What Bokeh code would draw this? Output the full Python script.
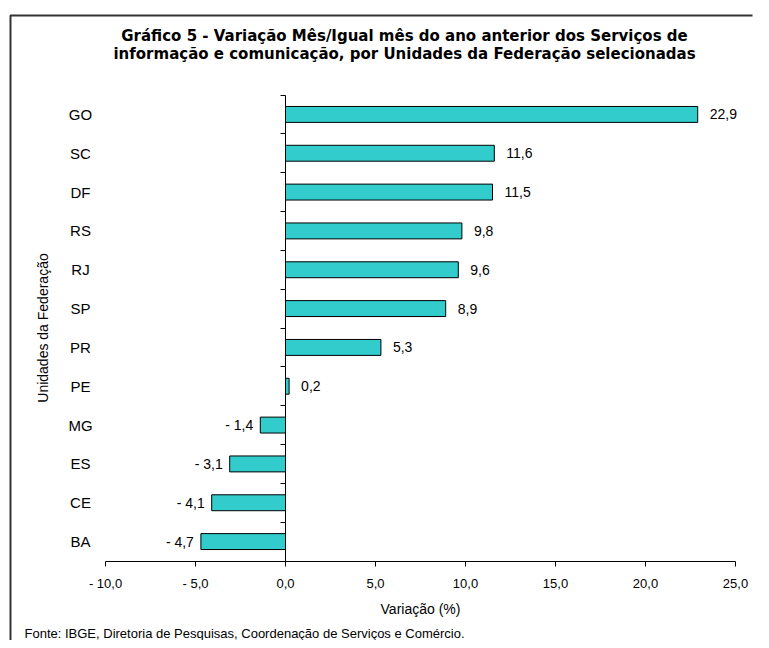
import numpy as np
from bokeh.plotting import figure
from bokeh.models import ColumnDataSource, LinearAxis, FixedTicker, Range1d, Label
from bokeh.core.properties import value
from bokeh.embed import file_html
from bokeh.resources import INLINE

# ---------------- data ----------------
STATES = ["GO", "SC", "DF", "RS", "RJ", "SP", "PR", "PE", "MG", "ES", "CE", "BA"]
VALUES = [22.9, 11.6, 11.5, 9.8, 9.6, 8.9, 5.3, 0.2, -1.4, -3.1, -4.1, -4.7]
X_TICKS = [-10, -5, 0, 5, 10, 15, 20, 25]
X_TICK_LABELS = ["- 10,0", "- 5,0", "0,0", "5,0", "10,0", "15,0", "20,0", "25,0"]
TITLE_LINES = [
    "Gráfico 5 - Variação Mês/Igual mês do ano anterior dos Serviços de",
    "informação e comunicação, por Unidades da Federação selecionadas",
]
X_LABEL = "Variação (%)"
Y_LABEL = "Unidades da Federação"
SOURCE_NOTE = "Fonte: IBGE, Diretoria de Pesquisas, Coordenação de Serviços e Comércio."

# ---------------- layout (canvas pixels) ----------------
FIG_W, FIG_H = 753, 640
FRAME_L, FRAME_T = 6, 11          # plot-area edges
BOX_L, BOX_T = 10, 15             # chart box border lines
FRAME_R, FRAME_B = FIG_W, FIG_H
AX_X0_PX, AX_X1_PX = 105.0, 735.0
AX_Y_TOP_PX, AX_Y_BOT_PX = 94.5, 560.5

FONT = "Liberation Sans"
TITLE_FONT = "DejaVu Sans"

n = len(STATES)
x_min, x_max = X_TICKS[0], X_TICKS[-1]
sx = (AX_X1_PX - AX_X0_PX) / (x_max - x_min)
sy = (AX_Y_BOT_PX - AX_Y_TOP_PX) / n


def dx(px):
    return x_min + (px - AX_X0_PX) / sx


def dy(py):
    return (AX_Y_BOT_PX - py) / sy


def fmt(v):
    s = f"{abs(v):.1f}".replace(".", ",")
    return ("- " + s) if v < 0 else s


p = figure(
    width=FIG_W, height=FIG_H,
    x_range=Range1d(dx(FRAME_L), dx(FRAME_R)),
    y_range=Range1d(dy(FRAME_B), dy(FRAME_T)),
    x_axis_type=None, y_axis_type=None,
    toolbar_location=None, output_backend="svg", title=None,
    min_border_left=FRAME_L, min_border_top=FRAME_T,
    min_border_right=0, min_border_bottom=0,
)
p.outline_line_color = None
p.outline_line_alpha = 0
p.outline_line_width = 0
p.background_fill_color = "white"
p.border_fill_color = "white"
p.border_fill_alpha = 0

# chart box border: left and top edges (the box continues past the window)
p.line(x=[dx(BOX_L), dx(BOX_L), dx(FIG_W - 1)],
       y=[dy(FIG_H + 20), dy(BOX_T), dy(BOX_T)],
       line_color="#333333", line_width=2)

pos = np.arange(n)[::-1] + 0.5
src = ColumnDataSource(dict(
    state=STATES, val=VALUES, y=pos,
    lab=[fmt(v) for v in VALUES],
    off=[12 if v >= 0 else -7 for v in VALUES],
    align=["left" if v >= 0 else "right" for v in VALUES],
))

p.hbar(y="y", left=0, right="val", height=0.41, source=src,
       fill_color="#33CCCC", line_color="black", line_width=1)

p.text(x="val", y="y", text="lab", x_offset="off", text_align="align",
       text_baseline="middle", text_font=value(FONT), text_font_size="14px",
       text_color="black", source=src)

p.text(x=dx(80), y="y", text="state", text_align="center", text_baseline="middle",
       text_font=value(FONT), text_font_size="15px", text_color="black", source=src)

# x axis at bottom boundary
xaxis = LinearAxis(
    fixed_location=0,
    ticker=FixedTicker(ticks=X_TICKS),
    major_label_overrides={t: l for t, l in zip(X_TICKS, X_TICK_LABELS)},
    bounds=(x_min, x_max),
    axis_line_color="black", axis_line_width=1,
    major_tick_line_color="black", major_tick_in=0, major_tick_out=5,
    minor_tick_line_color=None,
    major_label_standoff=10,
    major_label_text_font=FONT, major_label_text_font_size="13px",
    major_label_text_color="black",
    axis_label=X_LABEL, axis_label_standoff=6,
    axis_label_text_font=FONT, axis_label_text_font_size="14px",
    axis_label_text_font_style="normal", axis_label_text_color="black",
)
p.add_layout(xaxis, "below")

# y axis at x = 0 with ticks at category boundaries
yticks = list(range(n + 1))
yaxis = LinearAxis(
    fixed_location=0,
    ticker=FixedTicker(ticks=yticks),
    major_label_overrides={t: "" for t in yticks},
    bounds=(0, n),
    axis_line_color="black", axis_line_width=1,
    major_tick_line_color="black", major_tick_in=0, major_tick_out=5,
    minor_tick_line_color=None,
)
p.add_layout(yaxis, "left")

p.add_layout(Label(x=dx(42), y=dy(327.5), text=Y_LABEL, angle=np.pi / 2,
                   text_align="center", text_baseline="middle",
                   text_font=FONT, text_font_size="14px", text_color="black"))

for line, py in zip(TITLE_LINES, [35, 53]):
    p.add_layout(Label(x=dx(404), y=dy(py), text=line, text_align="center",
                       text_baseline="middle", text_font=TITLE_FONT,
                       text_font_size="15px", text_font_style="bold",
                       text_color="black"))

p.add_layout(Label(x=dx(24), y=dy(633), text=SOURCE_NOTE, text_align="left",
                   text_baseline="middle", text_font=FONT, text_font_size="13px",
                   text_color="black"))

open("out.html", "w").write(file_html(p, INLINE))
